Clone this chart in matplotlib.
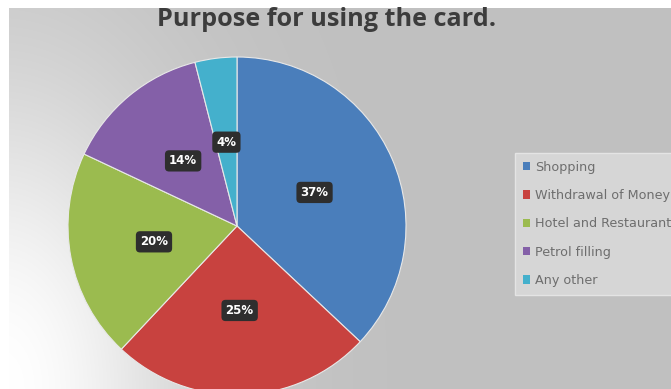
import numpy as np
import matplotlib.pyplot as plt
from matplotlib.patches import Patch

purposes = ['Shopping', 'Withdrawal of Money', 'Hotel and Restaurant', 'Petrol filling', 'Any other']
shares = [37, 25, 20, 14, 4]
colors = ['#4a7ebb', '#c8423f', '#9bbb4f', '#8460a8', '#44b0cc']

W, H = 671, 389
fig = plt.figure(figsize=(W / 100, H / 100), dpi=100)
fig.patch.set_facecolor('white')

# grey backdrop with a soft white glow along the lower left
bg = fig.add_axes([9 / W, 0, 1 - 9 / W, 1 - 8 / H])
yy, xx = np.mgrid[0:H - 8, 9:W]
up = (H - 8) - yy
d = np.hypot(xx / 190.0, up / 310.0)
shade = 192 + 63 * np.exp(-d ** 2)
bg.imshow(np.dstack([shade] * 3) / 255.0, aspect='auto', interpolation='bilinear')
bg.axis('off')

# pie
r = 169
cx, cy = 237, 226
ax = fig.add_axes([(cx - r) / W, (H - cy - r) / H, 2 * r / W, 2 * r / H])
wedges, texts, autotexts = ax.pie(
    shares, colors=colors, startangle=90, counterclock=False,
    autopct='%d%%', pctdistance=0.5,
    wedgeprops=dict(edgecolor='#e8e8e8', linewidth=0.8),
    textprops=dict(color='white', fontsize=8.5, fontweight='bold'))
for t in autotexts:
    t.set_bbox(dict(boxstyle='round,pad=0.35', fc='#2e2e2e', ec='none'))
ax.set_xlim(-1, 1)
ax.set_ylim(-1, 1)

fig.text(327 / W, 1 - 19 / H, 'Purpose for using the card.', ha='center', va='center',
         fontsize=18.2, fontweight='bold', color='#3c3c3c', family='Open Sans')

handles = [Patch(facecolor=c, edgecolor='none') for c in colors]
leg = fig.legend(handles, purposes, loc='upper left',
                 bbox_to_anchor=(515 / W, 1 - 153 / H),
                 fontsize=9.2, labelspacing=1.2, handlelength=0.6, handleheight=0.6,
                 handletextpad=0.35, borderpad=0.6, borderaxespad=0, fancybox=False)
leg.get_frame().set_facecolor('#d6d6d6')
leg.get_frame().set_edgecolor('#e4e4e4')
leg.get_frame().set_alpha(1)
for t in leg.get_texts():
    t.set_color('#6e6e6e')

fig.savefig('out.png', dpi=100)
